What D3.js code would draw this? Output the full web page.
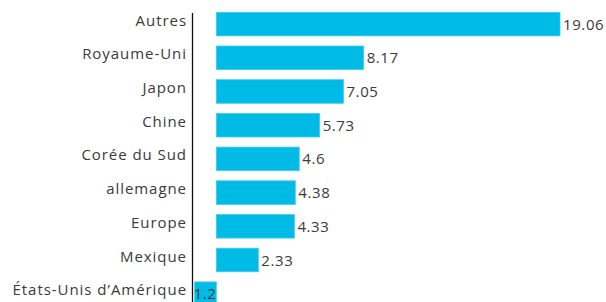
<!DOCTYPE html>
<html><head><meta charset="utf-8">
<script src="https://cdn.jsdelivr.net/npm/d3@7"></script>
<style>body{margin:0;background:#fff}svg{display:block}</style>
</head><body>
<script>
const categories = ["Autres","Royaume-Uni","Japon","Chine","Corée du Sud","allemagne","Europe","Mexique","États-Unis d’Amérique"];
const values = [19.06, 8.17, 7.05, 5.73, 4.6, 4.38, 4.33, 2.33, -1.2];

const W = 606, H = 302;
const svg = d3.select("body").append("svg").attr("width", W).attr("height", H);
const font = "'Open Sans', sans-serif";

const x = d3.scaleLinear().domain([0, 19.06]).range([216.3, 560]);
const y = d3.scaleBand().domain(categories).range([7.25, 310.55]).paddingInner(0.3).paddingOuter(0.15);

const data = categories.map((c, i) => ({c, v: values[i]}));

svg.append("g").selectAll("rect").data(data).join("rect")
  .attr("x", d => Math.min(x(0), x(d.v)))
  .attr("y", d => y(d.c))
  .attr("width", d => Math.abs(x(d.v) - x(0)))
  .attr("height", y.bandwidth())
  .attr("fill", "#00bbe5")
  .attr("stroke", "#3fcdf0").attr("stroke-width", 0.8);

svg.append("line").attr("x1", 192.5).attr("x2", 192.5).attr("y1", 13).attr("y2", H)
  .attr("stroke", "#111").attr("stroke-width", 1.3);

svg.append("g").selectAll("text").data(data).join("text")
  .attr("x", 187)
  .attr("y", d => y(d.c) + y.bandwidth()/2 + 1.5)
  .attr("text-anchor", "end")
  .attr("font-family", font).attr("font-size", 15)
  .attr("letter-spacing", "0.95px")
  .attr("fill", "#3a3a3a")
  .text(d => d.c);

svg.append("g").selectAll("text").data(data).join("text")
  .attr("x", d => d.v >= 0 ? x(d.v) + 3 : x(d.v) - 1)
  .attr("y", d => y(d.c) + y.bandwidth()/2 + 5.5)
  .attr("font-family", font).attr("font-size", 15)
  .attr("letter-spacing", "0.6px")
  .attr("fill", "#3a3a3a")
  .text(d => String(Math.abs(d.v)));
</script>
</body></html>
